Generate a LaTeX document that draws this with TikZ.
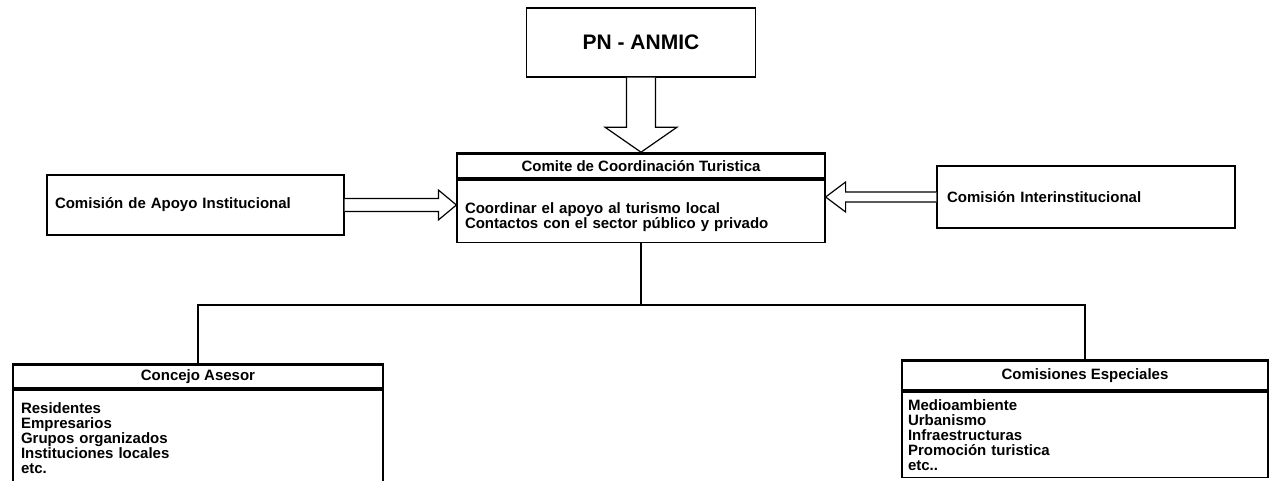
\documentclass[tikz,border=0pt]{standalone}
\usepackage{fontspec}
\setmainfont{Liberation Sans}
\usetikzlibrary{calc}

\newcommand{\orgfont}{\fontsize{7.5}{7.5}\selectfont\bfseries}

\begin{document}
\begin{tikzpicture}[x=0.5pt,y=-0.5pt,
  thin box/.style={draw,line width=0.6pt,rectangle,inner sep=0pt,font=\orgfont},
  head box/.style={draw,line width=1.4pt,rectangle,inner sep=0pt,font=\orgfont},
  list box/.style={thin box,align=left,anchor=north,inner ysep=0pt},
  fat arrow/.style={draw,line width=0.6pt,fill=white,line join=miter},
  link/.style={draw,line width=0.6pt}]

\useasboundingbox[fill=white] (0,0) rectangle (1275,481);
\clip (0,0) rectangle (1275,481);

\node[thin box,minimum width=114.5pt,minimum height=34.5pt,font=\fontsize{10.5}{12}\selectfont\bfseries] (pn) at (641,42.5) {PN - ANMIC};

\node[list box,text width=176pt,inner xsep=4pt,minimum height=31pt] (tareas) at (641,180)
  {\rule{0pt}{10.5pt}Coordinar el apoyo al turismo local\\Contactos con el sector público y privado};
\node[head box,minimum width=184pt,minimum height=12.5pt,anchor=south] (comite) at (tareas.north)
  {Comite de Coordinación Turistica};

\node[thin box,text width=140.5pt,inner xsep=4pt,align=left,minimum height=30pt] (apoyo) at (195.5,205)
  {Comisión de Apoyo Institucional};
\node[thin box,text width=139pt,inner xsep=5pt,align=left,minimum height=31pt] (inter) at (1086,197)
  {Comisión Interinstitucional};

\coordinate (tipN) at (comite.north);
\coordinate (tipL) at (apoyo.east -| tareas.west);
\coordinate (tipR) at (inter.west -| tareas.east);

\draw[fat arrow] ($(pn.south)+(-14.5,0)$) -- ($(tipN)+(-14.5,-25)$) -- ($(tipN)+(-36,-25)$) -- (tipN)
  -- ($(tipN)+(36,-25)$) -- ($(tipN)+(14.5,-25)$) -- ($(pn.south)+(14.5,0)$);
\draw[fat arrow] ($(apoyo.east)+(0,-6.5)$) -- ($(tipL)+(-18,-6.5)$) -- ($(tipL)+(-18,-15)$) -- (tipL)
  -- ($(tipL)+(-18,15)$) -- ($(tipL)+(-18,6.5)$) -- ($(apoyo.east)+(0,6.5)$);
\draw[fat arrow] ($(inter.west)+(0,-5)$) -- ($(tipR)+(20,-5)$) -- ($(tipR)+(20,-15)$) -- (tipR)
  -- ($(tipR)+(20,15)$) -- ($(tipR)+(20,5)$) -- ($(inter.west)+(0,5)$);

\node[list box,text width=177pt,inner xsep=4pt,minimum height=48pt] (miembros) at (198,390)
  {Residentes\\Empresarios\\Grupos organizados\\Instituciones locales\\etc.};
\node[head box,minimum width=185pt,minimum height=12pt,anchor=south] (asesor) at (miembros.north)
  {Concejo Asesor};

\node[list box,text width=177pt,inner xsep=3pt,minimum height=42.5pt] (temas) at (1085,392)
  {Medioambiente\\Urbanismo\\Infraestructuras\\Promoción turistica\\etc..};
\node[head box,minimum width=183pt,minimum height=15pt,anchor=south] (especiales) at (temas.north)
  {Comisiones Especiales};

\coordinate (jn) at (641,305);
\draw[link] (tareas.south) -- (jn);
\draw[link] (asesor.north) |- (jn) -| (especiales.north);
\end{tikzpicture}
\end{document}
